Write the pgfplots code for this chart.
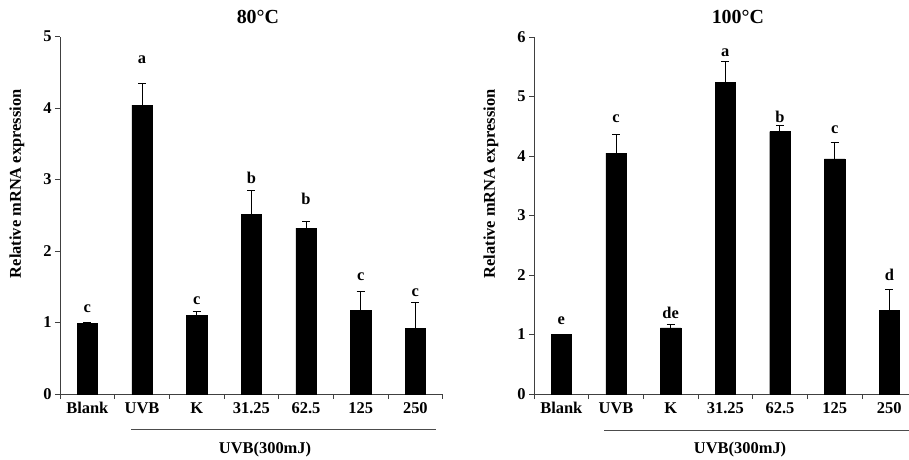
\documentclass[border=0pt]{standalone}
\usepackage{fontspec}
\setmainfont{Liberation Serif}
\usepackage{pgfplots}
\usepackage{pgfplotstable}
\pgfplotsset{compat=1.18}

\pgfplotstableread{
x y e
0 0.99 0.01
1 4.04 0.30
2 1.10 0.06
3 2.51 0.34
4 2.32 0.09
5 1.17 0.26
6 0.92 0.36
}\dataA
\pgfplotstableread{
x y e
0 1.00 0.00
1 4.05 0.31
2 1.11 0.05
3 5.24 0.34
4 4.41 0.10
5 3.95 0.27
6 1.41 0.34
}\dataB

\newcommand{\fs}{\fontsize{16.5}{18}\selectfont\bfseries}
\pgfplotsset{
  mystyle/.style={
    scale only axis,
    axis x line*=bottom,
    axis y line*=left,
    ymin=0,
    xmin=-0.5,
    xtick={0,...,6},
    xticklabels={Blank,UVB,K,31.25,62.5,125,250},
    major x tick style={draw=none},
    minor xtick={-0.5,0.5,...,6.5},
    tick align=outside,
    minor tick length=5bp,
    major tick length=5bp,
    axis line style={black!75, line width=0.9bp},
    tick style={black!75, line width=0.9bp},
    ticklabel style={font=\fs},
    /pgf/number format/assume math mode=true,
    ybar, bar width=20.5bp,
    clip=false,
  },
  mybars/.style={
    fill=black, draw=black,
    error bars/.cd, y dir=plus, y explicit,
    error mark=|,
    error bar style={line width=1bp, black},
    error mark options={line width=1bp, black, mark size=4bp},
  }
}

\begin{document}
\begin{tikzpicture}
\useasboundingbox (0,0) rectangle (909bp,460bp);
\begin{axis}[mystyle, at={(60bp,66bp)}, anchor=south west,
  width=382.7bp, height=357.5bp, xmax=6.5, ymax=5, ytick={0,...,5}]
\addplot[mybars] table[x=x, y=y, y error=e] {\dataA};
\node[font=\fs] at (axis cs:0,1.19) {c};
\node[font=\fs] at (axis cs:1,4.67) {a};
\node[font=\fs] at (axis cs:2,1.30) {c};
\node[font=\fs] at (axis cs:3,3.02) {b};
\node[font=\fs] at (axis cs:4,2.73) {b};
\node[font=\fs] at (axis cs:5,1.64) {c};
\node[font=\fs] at (axis cs:6,1.41) {c};
\draw[black!70, line width=1bp] (axis cs:0.8,-0.503) -- (axis cs:6.38,-0.503);
\node[font=\fs] at (axis cs:3.25,-0.783) {UVB(300mJ)};
\node[font=\fontsize{20}{22}\selectfont\bfseries] at (axis cs:3.12,5.27) {80°C};
\node[font=\fs, rotate=90] at (axis cs:-1.29,2.94) {Relative mRNA expression};
\end{axis}
\begin{axis}[mystyle, at={(534bp,66bp)}, anchor=south west,
  width=375bp, height=357bp, xmax=6.36, ymax=6, ytick={0,...,6}]
\addplot[mybars] table[x=x, y=y, y error=e] {\dataB};
\node[font=\fs] at (axis cs:0,1.24) {e};
\node[font=\fs] at (axis cs:1,4.63) {c};
\node[font=\fs] at (axis cs:2,1.36) {de};
\node[font=\fs] at (axis cs:3,5.74) {a};
\node[font=\fs] at (axis cs:4,4.66) {b};
\node[font=\fs] at (axis cs:5,4.44) {c};
\node[font=\fs] at (axis cs:6,2.00) {d};
\draw[black!70, line width=1bp] (axis cs:0.785,-0.617) -- (axis cs:6.36,-0.617);
\node[font=\fs] at (axis cs:3.27,-0.941) {UVB(300mJ)};
\node[font=\fontsize{20}{22}\selectfont\bfseries] at (axis cs:3.23,6.34) {100°C};
\node[font=\fs, rotate=90] at (axis cs:-1.29,3.53) {Relative mRNA expression};
\end{axis}
\end{tikzpicture}
\end{document}
